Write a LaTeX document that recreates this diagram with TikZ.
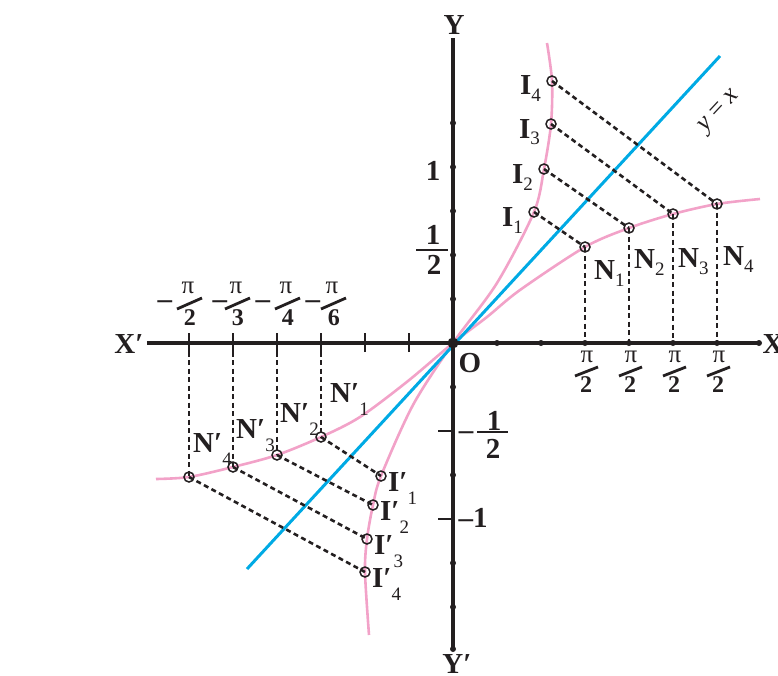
\documentclass[tikz,border=0pt]{standalone}
\usepackage{fontspec}
\setmainfont{Liberation Serif}
\usetikzlibrary{positioning}
\definecolor{axcol}{RGB}{35,31,32}
\definecolor{crvpink}{RGB}{242,162,200}
\definecolor{linblue}{RGB}{0,170,228}
\newcommand{\lblfont}{\fontsize{29}{31}\selectfont\bfseries}
\newcommand{\subfont}{\fontsize{19}{20}\selectfont\mdseries}
\newcommand{\pifont}{\fontsize{25}{27}\selectfont\mdseries}
\newcommand{\frfont}{\fontsize{24}{26}\selectfont\bfseries}
\newcommand{\lsub}[1]{\raisebox{-7pt}{\subfont #1}}
\newcommand{\lpsub}[1]{′\raisebox{-13pt}{\subfont #1}}

\begin{document}
\begin{tikzpicture}[x=1pt,y=1pt,
  axis/.style={draw=axcol,line width=3.2pt},
  crv/.style={draw=crvpink,line width=2.6pt},
  idline/.style={draw=linblue,line width=3pt},
  dsh/.style={draw=axcol,line width=2.6pt,dash pattern=on 5pt off 3.5pt},
  hole/.style={circle,draw=axcol,line width=1.5pt,inner sep=0pt,minimum size=10pt},
  tdot/.style={circle,fill=axcol,inner sep=0pt,minimum size=6pt},
  tck/.style={draw=axcol,line width=2.6pt},
  lbl/.style={font=\lblfont,text=axcol,inner sep=0pt},
  pisym/.style={font=\pifont,text=axcol,inner sep=0pt},
  frnum/.style={font=\frfont,text=axcol,inner sep=0pt},
  slash/.style={draw=axcol,line width=2.8pt}]
  \useasboundingbox (-453,-332) rectangle (325,343);
  % the two curves and y = x
  \draw[crv] plot[smooth] coordinates {(-297,-136) (-264,-134) (-220,-124) (-176,-112) (-132,-94) (-93,-74) (-45,-38) (0,0) (34,26) (67,53) (132,96) (176,115) (220,129) (264,139) (307,144)};
  \draw[crv] plot[smooth] coordinates {(-84,-292) (-88,-229) (-86,-196) (-80,-162) (-72,-133) (-40,-62) (0,0) (44,60) (81,131) (91,174) (98,219) (99,262) (94,300)};
  \coordinate (lo) at (-206,-226);
  \coordinate (hi) at (267,287);
  \draw[idline] (lo) -- (hi);
  \node[font=\fontsize{26}{28}\selectfont,text=axcol,rotate=47] (yx) at (267,231) {\textit{y} = \textit{x}};
  % axes
  \coordinate (O) at (0,0);
  \coordinate (xl) at (-306,0);
  \coordinate (xr) at (306,0);
  \coordinate (yb) at (0,-306);
  \coordinate (yt) at (0,305);
  \draw[axis] (xl) -- (xr);
  \draw[axis] (yb) -- (yt);
  \node[tdot] (xe) at (xr) {};
  \node[tdot] (ye) at (yb) {};
  \foreach \k in {1,...,6} {
    \node[tdot] at (44*\k,0) {};
    \draw[tck] (-44*\k,-9) -- (-44*\k,10);
  }
  \foreach \k in {1,...,5} \node[tdot] at (0,44*\k) {};
  \foreach \k in {1,3,5,6} \node[tdot] at (0,-44*\k) {};
  \draw[tck] (-15,-88) -- (0,-88);
  \draw[tck] (-15,-176) -- (0,-176);
  \node[circle,fill=axcol,inner sep=0pt,minimum size=11pt] (o) at (O) {};
  \node[lbl] (xn) at (-324,-1) {X′};
  \node[lbl] (xp) at (320,-1) {X};
  \node[lbl] (yp) at (1,318) {Y};
  \node[lbl] (yn) at (4,-321) {Y′};
  \node[lbl] (ol) at (17,-20) {O};
  % y tick labels
  \node[lbl] (one) at (-20,172) {1};
  \node[lbl] (hn) at (-20,108) {1};
  \draw[tck] (-37,93) -- (-5,93);
  \node[lbl] (hd) at (-19,78) {2};
  \node[lbl,anchor=base] (mm) at (13,-96) {–};
  \node[lbl] (mhn) at (41,-78) {1};
  \draw[tck] (24,-89) -- (55,-89);
  \node[lbl] (mhd) at (40,-106) {2};
  \node[lbl] (mone) at (20,-175) {–1};
  % x tick labels
  \foreach \f/\m/\d in {-264/-288/2,-216/-233/3,-166/-190/4,-120/-140/6} {
    \node[lbl,anchor=base] at (\m,35) {–};
    \node[pisym] at (\f-1,55) {π};
    \draw[slash] (\f-12,34) -- (\f+13,45);
    \node[frnum] at (\f+1,25) {\d};
  }
  \foreach \t in {132,176,220,264} {
    \node[pisym] at (\t+2,-14) {π};
    \draw[slash] (\t-10,-33) -- (\t+13,-24);
    \node[frnum] at (\t+1,-42) {2};
  }
  % points on the curves
  \node[hole] (I1) at (81,131) {};
  \node[hole] (I2) at (91,174) {};
  \node[hole] (I3) at (98,219) {};
  \node[hole] (I4) at (99,262) {};
  \node[hole] (N1) at (132,96) {};
  \node[hole] (N2) at (176,115) {};
  \node[hole] (N3) at (220,129) {};
  \node[hole] (N4) at (264,139) {};
  \node[hole] (Np1) at (-132,-94) {};
  \node[hole] (Np2) at (-176,-112) {};
  \node[hole] (Np3) at (-220,-124) {};
  \node[hole] (Np4) at (-264,-134) {};
  \node[hole] (Ip1) at (-72,-133) {};
  \node[hole] (Ip2) at (-80,-162) {};
  \node[hole] (Ip3) at (-86,-196) {};
  \node[hole] (Ip4) at (-88,-229) {};
  % dashed joins
  \draw[dsh] (I1.center) -- (N1.center);
  \draw[dsh] (I2.center) -- (N2.center);
  \draw[dsh] (I3.center) -- (N3.center);
  \draw[dsh] (I4.center) -- (N4.center);
  \draw[dsh] (N1.center) -- (N1 |- O);
  \draw[dsh] (N2.center) -- (N2 |- O);
  \draw[dsh] (N3.center) -- (N3 |- O);
  \draw[dsh] (N4.center) -- (N4 |- O);
  \draw[dsh] (Np1 |- O) -- (Np1.center);
  \draw[dsh] (Np2 |- O) -- (Np2.center);
  \draw[dsh] (Np3 |- O) -- (Np3.center);
  \draw[dsh] (Np4 |- O) -- (Np4.center);
  \draw[dsh] (Np1.center) -- (Ip1.center);
  \draw[dsh] (Np2.center) -- (Ip2.center);
  \draw[dsh] (Np3.center) -- (Ip3.center);
  \draw[dsh] (Np4.center) -- (Ip4.center);
  % point labels
  \node[lbl,anchor=base east] (lI1) at (70,117) {I\lsub{1}};
  \node[lbl,anchor=base east] (lI2) at (80,160) {I\lsub{2}};
  \node[lbl,anchor=base east] (lI3) at (87,205) {I\lsub{3}};
  \node[lbl,anchor=base east] (lI4) at (88,248) {I\lsub{4}};
  \node[lbl,anchor=base west] (lN1) at (141,64) {N\lsub{1}};
  \node[lbl,anchor=base west] (lN2) at (181,75) {N\lsub{2}};
  \node[lbl,anchor=base west] (lN3) at (225,76) {N\lsub{3}};
  \node[lbl,anchor=base west] (lN4) at (270,78) {N\lsub{4}};
  \node[lbl,anchor=base west] (lNp1) at (-123,-59) {N\lpsub{1}};
  \node[lbl,anchor=base west] (lNp2) at (-173,-79) {N\lpsub{2}};
  \node[lbl,anchor=base west] (lNp3) at (-217,-95) {N\lpsub{3}};
  \node[lbl,anchor=base west] (lNp4) at (-260,-109) {N\lpsub{4}};
  \node[lbl,anchor=base west] (lIp1) at (-65,-148) {I\lpsub{1}};
  \node[lbl,anchor=base west] (lIp2) at (-73,-177) {I\lpsub{2}};
  \node[lbl,anchor=base west] (lIp3) at (-79,-211) {I\lpsub{3}};
  \node[lbl,anchor=base west] (lIp4) at (-81,-244) {I\lpsub{4}};
\end{tikzpicture}
\end{document}
